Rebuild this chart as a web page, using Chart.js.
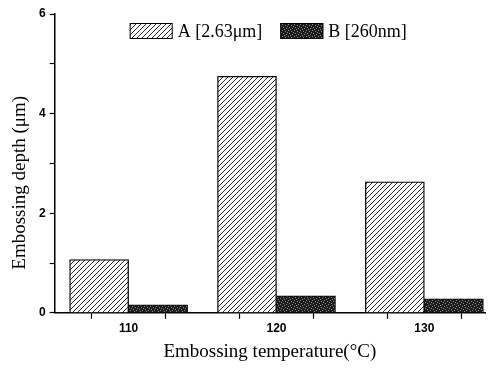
<!DOCTYPE html>
<html>
<head>
<meta charset="utf-8">
<script src="https://cdn.jsdelivr.net/npm/chart.js@4.4.0/dist/chart.umd.min.js"></script>
<style>
  html, body { margin: 0; padding: 0; background: #fff; }
</style>
</head>
<body>
<canvas id="chart" width="498" height="370"></canvas>
<script>
const temps = [110, 120, 130];
const depthA = [1.07, 4.75, 2.63];
const depthB = [0.16, 0.34, 0.28];
const xTicks = [110, 115, 120, 125, 130];
const yTicks = [0, 1, 2, 3, 4, 5, 6];
const yLabelled = [0, 2, 4, 6];
const yTitle = "Embossing depth (\u03bcm)";

// hatch fill for series A
function hatchPattern() {
  const c = document.createElement("canvas");
  c.width = 5; c.height = 5;
  const g = c.getContext("2d");
  g.fillStyle = "#fff";
  g.fillRect(0, 0, 5, 5);
  g.strokeStyle = "#2a2a2a";
  g.lineWidth = 1;
  g.beginPath();
  g.moveTo(-1, 6); g.lineTo(6, -1);
  g.moveTo(-1, 1); g.lineTo(1, -1);
  g.moveTo(4, 6); g.lineTo(6, 4);
  g.stroke();
  return g.createPattern(c, "repeat");
}

// dark stipple for series B
function stipplePattern() {
  const c = document.createElement("canvas");
  c.width = 6; c.height = 6;
  const g = c.getContext("2d");
  g.fillStyle = "#1c1c1c";
  g.fillRect(0, 0, 6, 6);
  g.fillStyle = "#8a8a8a";
  [[0, 0], [3, 1], [1, 3], [4, 4], [5, 2], [2, 5]].forEach(p => g.fillRect(p[0], p[1], 1, 1));
  return g.createPattern(c, "repeat");
}

const serif = "'Liberation Serif', 'Times New Roman', serif";
const tickFont = { family: "'Liberation Sans', Arial", size: 12, weight: "bold" };
const titleFont = { family: serif, size: 19 };

// legend inside the plot, in one row at the top, plus the y title shifted down like the original
const extras = {
  id: "extras",
  afterDraw(chart) {
    const { ctx, chartArea } = chart;
    ctx.save();
    ctx.font = "18px " + serif;
    ctx.textBaseline = "middle";
    ctx.fillStyle = "#000";
    let x = chartArea.left + 75;
    const top = chartArea.top + 9;
    chart.data.datasets.forEach((ds) => {
      ctx.fillStyle = ds.backgroundColor;
      ctx.fillRect(x, top, 43, 16);
      ctx.strokeStyle = "#000";
      ctx.lineWidth = 1;
      ctx.strokeRect(x + 0.5, top + 0.5, 42, 15);
      ctx.fillStyle = "#000";
      ctx.fillText(ds.label, x + 48, top + 9);
      x += 48 + ctx.measureText(ds.label).width + 18;
    });
    ctx.translate(20, chartArea.bottom - 130);
    ctx.rotate(-Math.PI / 2);
    ctx.textAlign = "center";
    ctx.font = "19px " + serif;
    ctx.fillText(yTitle, 0, 0);
    ctx.restore();
  },
};

new Chart(document.getElementById("chart"), {
  type: "bar",
  data: {
    datasets: [
      {
        label: "A [2.63\u03bcm]",
        data: temps.map((t, i) => ({ x: t, y: depthA[i] })),
        backgroundColor: hatchPattern(),
        borderColor: "#000",
        borderWidth: 1.3,
        borderSkipped: "bottom",
      },
      {
        label: "B [260nm]",
        data: temps.map((t, i) => ({ x: t, y: depthB[i] })),
        backgroundColor: stipplePattern(),
        borderColor: "#000",
        borderWidth: 1,
        borderSkipped: "bottom",
      },
    ],
  },
  plugins: [extras],
  options: {
    responsive: false,
    animation: false,
    barThickness: 59,
    layout: { padding: { top: 14, right: 13, bottom: 7, left: 35 } },
    plugins: {
      legend: { display: false },
      tooltip: { enabled: false },
    },
    scales: {
      x: {
        type: "linear",
        offset: false,
        min: 105,
        max: 134.1,
        afterBuildTicks: (s) => { s.ticks = xTicks.map(v => ({ value: v })); },
        ticks: {
          color: "#000",
          font: tickFont,
          padding: 3,
          maxRotation: 0,
          callback: (v) => (temps.includes(v) ? String(v) : ""),
        },
        grid: { drawOnChartArea: false, tickLength: 6, tickColor: "#000", tickWidth: 1.2 },
        border: { color: "#000", width: 1.5 },
        title: { display: true, text: "Embossing temperature(\u00b0C)", color: "#000", font: titleFont, padding: { top: 1, bottom: 0 } },
      },
      y: {
        min: 0,
        max: 6,
        afterBuildTicks: (s) => { s.ticks = yTicks.map(v => ({ value: v })); },
        ticks: {
          color: "#000",
          font: tickFont,
          padding: 4,
          callback: (v) => (yLabelled.includes(v) ? String(v) : ""),
        },
        grid: { drawOnChartArea: false, tickLength: 5, tickColor: "#000", tickWidth: 1.2 },
        border: { color: "#000", width: 1.5 },
      },
    },
  },
});
</script>
</body>
</html>
